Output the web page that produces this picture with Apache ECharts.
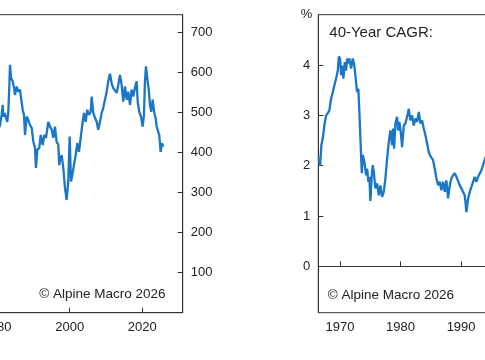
<!DOCTYPE html>
<html>
<head>
<meta charset="utf-8">
<script src="https://cdn.jsdelivr.net/npm/echarts@6/dist/echarts.min.js"></script>
<style>
html,body{margin:0;padding:0;background:#fff;}
#chart{width:485px;height:360px;}
</style>
</head>
<body>
<div id="chart"></div>
<script>
// Left panel: level series (right axis)
var leftYears = [1980.2,
  1980.81,1981.28,1981.56,1981.72,1982.11,1982.47,1982.82,1983.10,1983.37,1983.57,
  1983.84,1984.31,1984.67,1984.94,1985.41,1985.85,1986.32,1986.60,1987.06,1987.42,
  1987.70,1988.16,1988.60,1989.07,1989.54,1989.98,1990.45,1990.72,1991.08,1991.63,
  1992.02,1992.57,1993.01,1993.48,1994.11,1994.58,1995.05,1995.49,1995.95,1996.42,
  1996.86,1997.14,1997.33,1997.80,1998.24,1998.71,1999.17,1999.61,2000.00,2000.36,
  2000.72,2001.18,2001.65,2002.09,2002.56,2003.03,2003.47,2003.94,2004.40,2004.84,
  2005.31,2005.78,2006.06,2006.50,2006.96,2007.43,2007.87,2008.34,2008.81,2009.25,
  2009.72,2010.18,2010.62,2011.09,2011.56,2012.00,2012.47,2012.94,2013.38,2013.85,
  2014.31,2014.75,2015.22,2015.69,2016.13,2016.60,2017.07,2017.51,2017.97,2018.44,
  2018.72,2019.16,2019.63,2020.09,2020.45,2020.73,2021.00,2021.36,2021.83,2022.10,
  2022.46,2022.85,2023.29,2023.67,2023.95,2024.39,2024.66,2025.05,2025.41,2025.76];
var leftValues = [450,
  468,493,518,489,498,486,476,501,561,618,
  586,577,561,543,564,551,556,536,506,493,
  443,489,481,468,461,427,411,361,406,411,
  443,418,443,436,476,464,456,436,464,425,
  420,368,380,393,361,311,281,327,439,327,
  343,368,393,423,401,436,468,498,476,506,
  493,501,539,498,486,476,456,476,498,511,
  531,551,577,596,572,560,561,548,568,593,
  568,526,564,531,551,518,556,539,561,577,
  526,501,489,464,493,577,614,585,551,518,
  501,531,498,486,464,461,443,401,423,414];
var leftYTicks = [100,200,300,400,500,600,700];
var leftXTicks = [1960,1980,2000,2020];

// Right panel: 40-year CAGR (%)
var rightYears = [
  1966.48,1966.69,1966.91,1967.14,1967.40,1967.69,1967.97,1968.23,1968.51,1968.79,
  1969.06,1969.34,1969.62,1969.79,1970.00,1970.17,1970.33,1970.55,1970.78,1970.99,
  1971.16,1971.37,1971.54,1971.82,1972.10,1972.36,1972.64,1972.81,1973.02,1973.19,
  1973.36,1973.47,1973.59,1973.75,1974.02,1974.30,1974.46,1974.68,1974.84,1975.01,
  1975.24,1975.40,1975.57,1975.83,1976.12,1976.40,1976.66,1976.94,1977.22,1977.49,
  1977.77,1978.05,1978.31,1978.60,1978.76,1978.93,1979.14,1979.42,1979.59,1979.80,
  1980.03,1980.25,1980.53,1980.79,1981.07,1981.36,1981.62,1981.90,1982.18,1982.45,
  1982.73,1983.01,1983.27,1983.55,1983.83,1984.10,1984.38,1984.66,1984.88,1985.09,
  1985.37,1985.65,1985.92,1986.20,1986.48,1986.74,1987.02,1987.31,1987.57,1987.85,
  1988.13,1988.40,1988.68,1988.96,1989.22,1989.50,1989.79,1990.05,1990.33,1990.61,
  1990.88,1991.16,1991.44,1991.70,1991.98,1992.26,1992.53,1992.81,1993.09,1993.36,
  1993.64,1993.97,1994.30];
var rightValues = [
  2.17,2.00,2.41,2.54,2.80,3.00,3.04,3.10,3.33,3.46,
  3.60,3.73,3.89,4.17,4.13,3.80,3.99,3.73,4.06,3.89,
  4.13,4.03,4.13,3.93,4.13,3.99,3.66,3.46,3.53,3.07,
  2.54,2.21,1.85,2.21,2.08,1.81,1.94,1.68,1.78,1.30,
  1.81,2.01,1.88,1.55,1.65,1.41,1.61,1.38,1.48,1.75,
  2.14,2.47,2.70,2.41,2.74,2.34,2.84,2.97,2.70,2.87,
  2.67,2.37,2.80,2.84,2.97,3.13,2.90,3.00,2.80,2.94,
  2.87,3.07,2.84,2.90,2.74,2.61,2.44,2.27,2.20,2.17,
  2.11,1.94,1.75,1.61,1.68,1.51,1.68,1.48,1.71,1.35,
  1.61,1.75,1.81,1.85,1.78,1.81,1.61,1.55,1.48,1.41,
  1.08,1.35,1.48,1.51,1.68,1.78,1.68,1.78,1.75,1.91,
  1.94,2.14,2.25];
var rightYTicks = [0,1,2,3,4];
var rightXTicks = [1970,1980,1990,2000,2010,2020];

var FONT = '"Liberation Sans", Arial, sans-serif';
var TXT = '#222';
var AX = '#333';
var BLUE = '#1a76c6';

function zip(a, b) { return a.map(function (v, i) { return [v, b[i]]; }); }

var chart = echarts.init(document.getElementById('chart'), null, {renderer: 'canvas'});
chart.setOption({
  animation: false,
  backgroundColor: '#fff',
  textStyle: {fontFamily: FONT},
  grid: [
    {left: -75.6, right: 302.3, top: 14.7, bottom: 47.3, show: true, borderColor: AX, borderWidth: 1,
     containLabel: false, outerBoundsMode: 'none'},
    {left: 318.3, right: -218.1, top: 14.7, bottom: 47.3, show: true, borderColor: AX, borderWidth: 1,
     containLabel: false, outerBoundsMode: 'none'}
  ],
  xAxis: [
    {type: 'value', gridIndex: 0, min: 1960, max: 2031.12, interval: 20,
     axisLine: {show: true, lineStyle: {color: AX, width: 1}},
     axisTick: {show: true, inside: true, length: 5, lineStyle: {color: AX}, customValues: leftXTicks},
     axisLabel: {show: true, color: TXT, fontSize: 13, fontFamily: FONT, margin: 8,
                 customValues: leftXTicks, formatter: function (v) { return String(v); }},
     splitLine: {show: false}},
    {type: 'value', gridIndex: 1, min: 1966.4, max: 2030,
     axisLine: {show: true, lineStyle: {color: AX, width: 1}},
     axisTick: {show: true, inside: true, length: 5, lineStyle: {color: AX}, customValues: rightXTicks},
     axisLabel: {show: true, color: TXT, fontSize: 13, fontFamily: FONT, margin: 8,
                 customValues: rightXTicks, formatter: function (v) { return String(v); }},
     splitLine: {show: false}}
  ],
  yAxis: [
    {type: 'value', gridIndex: 0, position: 'right', min: 0, max: 743,
     axisLine: {show: true, lineStyle: {color: AX, width: 1}},
     axisTick: {show: true, inside: true, length: 5, lineStyle: {color: AX}, customValues: leftYTicks},
     axisLabel: {show: true, color: TXT, fontSize: 13, fontFamily: FONT, margin: 8, customValues: leftYTicks},
     splitLine: {show: false}},
    {type: 'value', gridIndex: 1, position: 'left', min: -0.92, max: 5,
     name: '%', nameLocation: 'end', nameGap: 0,
     nameTextStyle: {color: TXT, fontSize: 13, fontFamily: FONT, align: 'right', verticalAlign: 'middle', padding: [0, 6, 0, 0]},
     axisLine: {show: true, lineStyle: {color: AX, width: 1}},
     axisTick: {show: true, inside: true, length: 5, lineStyle: {color: AX}, customValues: rightYTicks},
     axisLabel: {show: true, color: TXT, fontSize: 13, fontFamily: FONT, margin: 8, customValues: rightYTicks},
     splitLine: {show: false}}
  ],
  series: [
    {type: 'line', xAxisIndex: 0, yAxisIndex: 0, data: zip(leftYears, leftValues),
     showSymbol: false, symbol: 'none', lineStyle: {color: BLUE, width: 2.3}, clip: true},
    {type: 'line', xAxisIndex: 1, yAxisIndex: 1, data: zip(rightYears, rightValues),
     showSymbol: false, symbol: 'none', lineStyle: {color: BLUE, width: 2.3}, clip: true,
     markLine: {silent: true, symbol: 'none', label: {show: false},
                lineStyle: {color: AX, width: 1, type: 'solid'},
                data: [{yAxis: 0}]}}
  ],
  graphic: [
    {type: 'text', x: 39.3, y: 294.5, silent: true,
     style: {text: '\u00A9 Alpine Macro 2026', fill: TXT, font: '13.5px ' + FONT, verticalAlign: 'middle'}},
    {type: 'text', x: 327.7, y: 295, silent: true,
     style: {text: '\u00A9 Alpine Macro 2026', fill: TXT, font: '13.5px ' + FONT, verticalAlign: 'middle'}},
    {type: 'text', x: 329.3, y: 33, silent: true,
     style: {text: '40-Year CAGR:', fill: TXT, font: '15px ' + FONT, verticalAlign: 'middle'}}
  ]
});
</script>
</body>
</html>
